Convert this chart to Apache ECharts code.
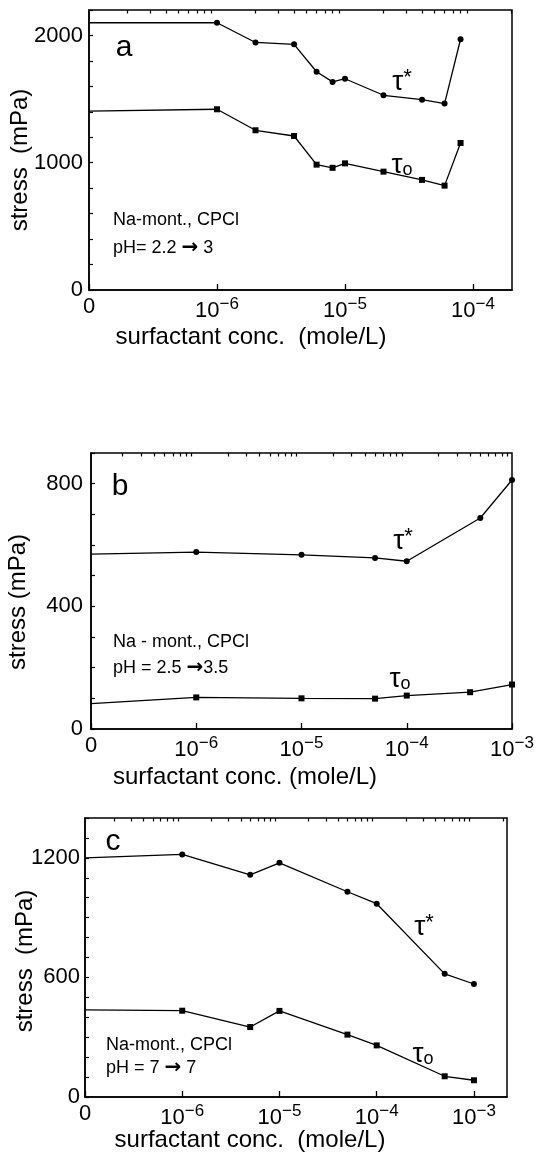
<!DOCTYPE html>
<html>
<head>
<meta charset="utf-8">
<script src="https://cdn.jsdelivr.net/npm/echarts@6/dist/echarts.min.js"></script>
<style>
  html, body { margin: 0; padding: 0; background: #fff; }
  #chart { width: 555px; height: 1154px; }
</style>
</head>
<body>
<div id="chart"></div>
<script>
// concentrations (mole/L); 0 is drawn one decade left of 10^-6
const concA = [0, 1e-6, 2e-6, 4e-6, 6e-6, 8e-6, 1e-5, 2e-5, 4e-5, 6e-5, 8e-5]
const tauStarA = [2100, 2100, 1945, 1930, 1715, 1635, 1660, 1530, 1495, 1465, 1970]
const tau0A = [1405, 1420, 1255, 1210, 985, 960, 995, 930, 865, 820, 1155]

const concStarB = [0, 1e-6, 1e-5, 5e-5, 1e-4, 5e-4, 1e-3]
const tauStarB = [570, 577, 568, 558, 547, 688, 812]
const conc0B = [0, 1e-6, 1e-5, 5e-5, 1e-4, 4e-4, 1e-3]
const tau0B = [83, 103, 100, 99, 109, 120, 145]

const concC = [0, 1e-6, 5e-6, 1e-5, 5e-5, 1e-4, 5e-4, 1e-3]
const tauStarC = [1200, 1217, 1115, 1175, 1030, 970, 618, 567]
const tau0C = [437, 433, 351, 432, 313, 259, 104, 84]

// tick labels
const decadesA = [-7, -6, -5, -4]
const decadesBC = [-7, -6, -5, -4, -3]
const yLabelsA = [0, 1000, 2000]
const yLabelsB = [0, 400, 800]
const yLabelsC = [0, 600, 1200]

const ZERO_POS = -7
const FONT = "'Liberation Sans', sans-serif"

const toPos = c => (c === 0 ? ZERO_POS : Math.log10(c))

// minor tick positions 2..9 x 10^n
function minorTicks(min, max) {
  const out = []
  for (let n = -7; n <= -2; n++) {
    for (let k = 2; k <= 9; k++) {
      const v = Math.log10(k) + n
      if (v > min && v < max) out.push(v)
    }
  }
  return out
}

function steps(max, step) {
  const out = []
  for (let v = 0; v <= max; v += step) out.push(v)
  return out
}

const panels = [
  { grid: { left: 89, top: 10, width: 423, height: 280 }, xMax: -3.695, yMax: 2200, yStep: 200, decades: decadesA, yLabels: yLabelsA, yMargin: 6 },
  { grid: { left: 91, top: 453, width: 421, height: 276 }, xMax: -3, yMax: 900, yStep: 100, decades: decadesBC, yLabels: yLabelsB, yMargin: 8 },
  { grid: { left: 85, top: 818, width: 422, height: 279 }, xMax: -2.66, yMax: 1400, yStep: 100, decades: decadesBC, yLabels: yLabelsC, yMargin: 5 }
]

const grids = []
const xAxes = []
const yAxes = []
panels.forEach((p, i) => {
  grids.push(Object.assign({ show: true, borderColor: '#000', borderWidth: 1.5, backgroundColor: 'transparent' }, p.grid))
  // major axis with labels
  xAxes.push({
    gridIndex: i, type: 'value', min: ZERO_POS, max: p.xMax,
    axisLine: { show: true, lineStyle: { color: '#000', width: 1.5 } },
    axisTick: { show: true, inside: true, length: 6, customValues: p.decades, lineStyle: { color: '#000', width: 1.3 } },
    axisLabel: {
      customValues: p.decades, color: '#000', fontFamily: FONT, fontSize: 22, margin: 6,
      formatter: v => (v === ZERO_POS ? '0' : '10{sup|−' + (-v) + '}'),
      rich: { sup: { fontFamily: FONT, fontSize: 17, color: '#000', padding: [0, 0, 13, 0] } }
    },
    splitLine: { show: false }
  })
  // minor log ticks
  xAxes.push({
    gridIndex: i, type: 'value', min: ZERO_POS, max: p.xMax,
    axisLine: { show: false },
    axisTick: { show: true, inside: true, length: 3.5, customValues: minorTicks(ZERO_POS, p.xMax), lineStyle: { color: '#000', width: 1.2 } },
    axisLabel: { show: false },
    splitLine: { show: false }
  })
  yAxes.push({
    gridIndex: i, type: 'value', min: 0, max: p.yMax,
    axisLine: { show: true, lineStyle: { color: '#000', width: 1.5 } },
    axisTick: { show: true, inside: true, length: 4, customValues: steps(p.yMax, p.yStep), lineStyle: { color: '#000', width: 1.2 } },
    axisLabel: { customValues: p.yLabels, color: '#000', fontFamily: FONT, fontSize: 22, margin: p.yMargin, formatter: v => String(v) },
    splitLine: { show: false }
  })
})

function lineSeries(panel, conc, vals, symbol) {
  return {
    type: 'line',
    xAxisIndex: panel * 2,
    yAxisIndex: panel,
    symbol: symbol,
    symbolSize: 6,
    lineStyle: { color: '#000', width: 1.3 },
    itemStyle: { color: '#000' },
    animation: false,
    data: conc.map((c, i) => (c === 0 ? { value: [toPos(c), vals[i]], symbol: 'none' } : [toPos(c), vals[i]]))
  }
}

const series = [
  lineSeries(0, concA, tauStarA, 'circle'),
  lineSeries(0, concA, tau0A, 'rect'),
  lineSeries(1, concStarB, tauStarB, 'circle'),
  lineSeries(1, conc0B, tau0B, 'rect'),
  lineSeries(2, concC, tauStarC, 'circle'),
  lineSeries(2, concC, tau0C, 'rect')
]

const ARROW_RICH = {
  ar: { font: "bold 20px 'DejaVu Sans', sans-serif", fill: '#000' }
}

function txt(text, x, y, size, align, rotation) {
  return {
    type: 'text', x: x, y: y, rotation: rotation || 0,
    style: {
      text: text, fill: '#000', font: size + 'px ' + FONT, align: align || 'left', verticalAlign: 'middle',
      rich: ARROW_RICH
    }
  }
}
function tauLabel(x, y, sub) {
  return {
    type: 'text', x: x, y: y,
    style: {
      text: sub ? '{t|τ}{s|o}' : '{t|τ}{a|*}', align: 'center', verticalAlign: 'middle',
      rich: {
        t: { font: '28px ' + FONT, fill: '#000' },
        s: { font: '18px ' + FONT, fill: '#000', padding: [10, 0, 0, 0] },
        a: { font: '22px ' + FONT, fill: '#000', padding: [0, 0, 8, 0] }
      }
    }
  }
}

const graphics = [
  // panel a
  txt('a', 124, 48, 30, 'center'),
  txt('Na-mont., CPCl', 113, 220, 18),
  txt('pH= 2.2 {ar|→} 3', 113, 248, 18),
  tauLabel(402, 82, false),
  tauLabel(402, 165, true),
  txt('surfactant conc.  (mole/L)', 251, 337, 24, 'center'),
  txt('stress  (mPa)', 20, 160, 24, 'center', Math.PI / 2),
  // panel b
  txt('b', 120, 487, 30, 'center'),
  txt('Na - mont., CPCl', 113, 642, 18),
  txt('pH = 2.5 {ar|→}3.5', 113, 668, 18),
  tauLabel(403, 541, false),
  tauLabel(400, 679, true),
  txt('surfactant conc. (mole/L)', 245, 777, 24, 'center'),
  txt('stress (mPa)', 18, 602, 24, 'center', Math.PI / 2),
  // panel c
  txt('c', 113, 842, 30, 'center'),
  txt('Na-mont., CPCl', 106, 1045, 18),
  txt('pH = 7 {ar|→} 7', 106, 1068, 18),
  tauLabel(424, 927, false),
  tauLabel(423, 1054, true),
  txt('surfactant conc.  (mole/L)', 250, 1140, 24, 'center'),
  txt('stress  (mPa)', 25, 961, 24, 'center', Math.PI / 2)
]

const chart = echarts.init(document.getElementById('chart'), null, { renderer: 'canvas' })
chart.setOption({
  animation: false,
  backgroundColor: '#fff',
  grid: grids,
  xAxis: xAxes,
  yAxis: yAxes,
  series: series,
  graphic: graphics
})
</script>
</body>
</html>
